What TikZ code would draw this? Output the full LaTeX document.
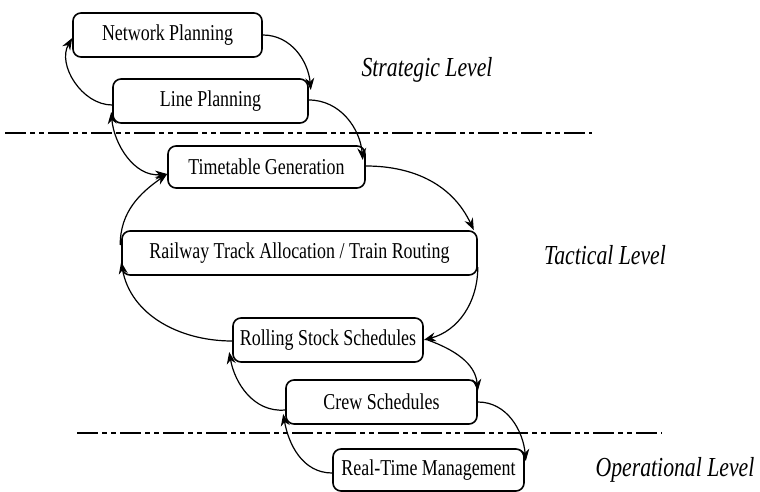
\documentclass[tikz,border=0pt]{standalone}
\usepackage{fontspec}
\setmainfont{Liberation Serif}[FakeStretch=0.79]
\usetikzlibrary{arrows.meta,calc}
\tikzset{
  box/.style={draw, line width=1.6pt, rounded corners=8pt, inner sep=0pt,
    font=\fontsize{22.7}{27}\selectfont},
  lvl/.style={font=\fontsize{27.5}{30}\selectfont\itshape, inner sep=0pt},
  conn/.style={line width=1.2pt, -{Stealth[length=12pt,width=9pt]}},
  sep/.style={line width=2.8pt, dash pattern=on 21pt off 4.4pt on 4.4pt off 4.4pt on 4.4pt off 4.4pt}
}
\begin{document}
\begin{tikzpicture}[x=1pt,y=1pt]
\useasboundingbox (0,0) rectangle (760,-492);
% separators
\coordinate (s1a) at (5,-133);
\coordinate (s1b) at (592,-133);
\coordinate (s2a) at (77,-433);
\coordinate (s2b) at (662,-433);
\draw[sep] (s1a) -- (s1b);
\draw[sep] (s2a) -- (s2b);
% boxes
\node[box, minimum width=189pt, minimum height=44pt] (NP) at (167.5,-35) {Network Planning};
\node[box, minimum width=195pt, minimum height=44pt] (LP) at (210.5,-101) {Line Planning};
\node[box, minimum width=197pt, minimum height=42pt] (TG) at (266.5,-167) {Timetable Generation};
\node[box, minimum width=355pt, minimum height=44pt] (RT) at (299.5,-253) {Railway Track Allocation / Train Routing};
\node[box, minimum width=190pt, minimum height=44pt] (RS) at (328,-340) {Rolling Stock Schedules};
\node[box, minimum width=191pt, minimum height=44pt] (CS) at (381.5,-402) {Crew Schedules};
\node[box, minimum width=191pt, minimum height=42pt] (RTM) at (428.5,-470) {Real-Time Management};
% level labels
\node[lvl] (L1) at (427,-70) {Strategic Level};
\node[lvl] (L2) at (605,-255) {Tactical Level};
\node[lvl] (L3) at (675,-470) {Operational Level};
% connectors
\draw[conn] (NP.east) to[out=0,in=95] ([xshift=2pt,yshift=11pt]LP.east);
\draw[conn] ([yshift=-4pt]LP.west) to[out=180,in=240] ([yshift=-3pt]NP.west);
\draw[conn] ([yshift=1pt]LP.east) to[out=0,in=95] ([xshift=-3pt,yshift=7pt]TG.east);
\draw[line width=1.2pt, {Stealth[length=12pt,width=9pt]}-{Stealth[length=12pt,width=9pt]}]
  ([xshift=-1pt,yshift=-11pt]LP.west) to[out=-85,in=185] ([yshift=-7pt]TG.west);
\draw[conn] ([xshift=-1pt,yshift=8pt]RT.west) to[out=90,in=215] ([yshift=-7pt]TG.west);
\draw[conn] ([yshift=-1pt]RS.west) to[out=180,in=280] ([yshift=-9pt]RT.west);
\draw[conn] ([yshift=1pt]TG.east) to[out=0,in=115] ([xshift=-4pt]RT.north east);
\draw[conn] ([yshift=-14pt]RT.east) to[out=-90,in=15] (RS.east);
\draw[conn] ([xshift=4pt]RS.east) to[out=-20,in=95] ([yshift=11pt]CS.east);
\draw[conn] ([yshift=-8pt]CS.west) to[out=185,in=-80] ([xshift=-3pt,yshift=-12pt]RS.west);
\draw[conn] ([yshift=-3pt]RTM.west) to[out=180,in=-80] ([xshift=-2pt,yshift=-12pt]CS.west);
\draw[conn] (CS.east) to[out=0,in=95] ([xshift=1pt,yshift=9pt]RTM.east);
\end{tikzpicture}
\end{document}
